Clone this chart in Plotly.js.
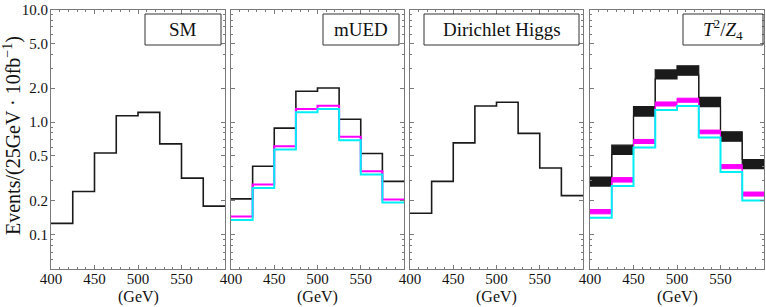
<!DOCTYPE html>
<html><head><meta charset="utf-8">
<script src="https://cdn.plot.ly/plotly-3.0.1.min.js"></script>
<style>html,body{margin:0;padding:0;background:#fff}#plot{width:766px;height:307px}</style>
</head><body><div id="plot"></div>
<script>
// ---- data ----
const binEdges = [400,425,450,475,500,525,550,575,600];
const panelNames = ["SM","mUED","Dirichlet Higgs","<i>T</i><sup>2</sup>/<i>Z</i><sub>4</sub>"];
const smVals = [0.126,0.242,0.532,1.14,1.22,0.640,0.318,0.179];
const muedBlack = [0.208,0.405,0.884,1.88,2.01,1.06,0.526,0.297];
const muedMagenta = [0.145,0.279,0.610,1.31,1.40,0.739,0.365,0.205];
const muedCyan = [0.135,0.259,0.570,1.22,1.31,0.691,0.343,0.193];
const dhVals = [0.155,0.297,0.653,1.39,1.50,0.793,0.391,0.222];
const t2BlackHi = [0.325,0.623,1.37,2.91,3.16,1.66,0.819,0.465];
const t2BlackLo = [0.270,0.515,1.13,2.42,2.61,1.37,0.676,0.386];
const t2MagHi = [0.167,0.321,0.701,1.51,1.63,0.849,0.419,0.239];
const t2MagLo = [0.153,0.293,0.645,1.39,1.50,0.787,0.386,0.220];
const t2Cyan = [0.141,0.270,0.594,1.28,1.39,0.730,0.360,0.201];
const xTickVals = [400,450,500,550,600];
const xTickText = ["400","450","500","550",""];
const yTickVals = [0.1,0.2,0.5,1,2,5,10];
const yTickText = ["0.1","0.2","0.5","1.0","2.0","5.0","10.0"];
const yMinorVals = [0.06,0.07,0.08,0.09,0.3,0.4,0.6,0.7,0.8,0.9,3,4,6,7,8,9];

// ---- helpers ----
const W = 766, H = 307;
const FONT = "Liberation Serif, Times New Roman, serif";
function stepY(v){ return v.concat([v[v.length-1]]); }
function step(v, ax, color, width, extra){
  return Object.assign({x: binEdges, y: stepY(v), xaxis: 'x'+ax, yaxis: 'y'+ax,
    mode:'lines', line:{shape:'hv', color: color, width: width}, hoverinfo:'skip', showlegend:false}, extra||{});
}
const BLACK = '#1a1a1a', MAG = '#ff00ff', CYAN = '#00eef5';
const traces = [
  step(smVals, '', BLACK, 1.6),
  step(muedBlack, '2', BLACK, 1.6),
  step(muedMagenta, '2', MAG, 2),
  step(muedCyan, '2', CYAN, 2),
  step(dhVals, '3', BLACK, 1.6),
  step(t2BlackLo, '4', BLACK, 1.2),
  step(t2BlackHi, '4', BLACK, 1.2, {fill:'tonexty', fillcolor: BLACK}),
  step(t2MagLo, '4', MAG, 1),
  step(t2MagHi, '4', MAG, 1, {fill:'tonexty', fillcolor: MAG}),
  step(t2Cyan, '4', CYAN, 2)
];

const pxDomains = [[51,225],[231,404],[410,583],[590,764]];
const yDom = [1-268.5/H, 1-9.5/H];
const FRAME = '#7a7a7a';
const layout = {
  width: W, height: H, margin:{l:0,r:0,t:0,b:0},
  paper_bgcolor:'#fff', plot_bgcolor:'#fff', showlegend:false,
  font:{family: FONT, color:'#111', size:14},
  shapes: [], annotations: []
};
const boxes = [[145,221],[323,399],[424,579],[683,763]];
for(let i=0;i<4;i++){
  const s = i===0 ? '' : String(i+1);
  layout['xaxis'+s] = {domain:[pxDomains[i][0]/W, pxDomains[i][1]/W], range:[400,600],
    anchor:'y'+s, tickmode:'array', tickvals:xTickVals, ticktext:xTickText, ticks:'inside', ticklen:4,
    tickcolor:FRAME, showline:true, linecolor:FRAME, linewidth:1, mirror:'ticks', showgrid:false, zeroline:false,
    tickfont:{family:FONT, size:15, color:'#111'}, ticklabelstandoff:-4,
    minor:{tickmode:'linear', tick0:400, dtick:10, ticks:'inside', ticklen:2, tickcolor:FRAME, showgrid:false}};
  layout['yaxis'+s] = {domain:yDom, type:'log', range:[Math.log10(0.05), 1.0004], anchor:'x'+s,
    tickmode:'array', tickvals:yTickVals, ticktext:yTickText, ticks:'inside', ticklen:4, tickcolor:FRAME,
    showline:true, linecolor:FRAME, linewidth:1, mirror:'ticks', showgrid:false, zeroline:false,
    showticklabels: i===0, tickfont:{family:FONT, size:15, color:'#111'}, ticklabelstandoff:-1,
    minor:{tickmode:'array', tickvals:yMinorVals, ticks:'inside', ticklen:2, tickcolor:FRAME, showgrid:false}};
  // label box
  layout.shapes.push({type:'rect', xref:'paper', yref:'paper', x0:boxes[i][0]/W, x1:boxes[i][1]/W,
    y0:1-45/H, y1:1-14/H, line:{color:'#333', width:1}, fillcolor:'rgba(255,255,255,0)'});
  layout.annotations.push({xref:'paper', yref:'paper', x:(boxes[i][0]+boxes[i][1])/2/W, y:1-29.5/H,
    xanchor:'center', yanchor:'middle', text: panelNames[i], showarrow:false,
    font:{family:FONT, size:19, color:'#111'}});
  layout.annotations.push({xref:'paper', yref:'paper', x:(pxDomains[i][0]+pxDomains[i][1])/2/W, y:1-297/H,
    xanchor:'center', yanchor:'middle', text:'(GeV)', showarrow:false, font:{family:FONT, size:16, color:'#111'}});
}
layout.annotations.push({xref:'paper', yref:'paper', x:12/W, y:1-136/H, xanchor:'center', yanchor:'middle',
  textangle:-90, text:'Events/(25GeV · 10fb<sup>−1</sup>)', showarrow:false, font:{family:FONT, size:20, color:'#111'}});

Plotly.newPlot('plot', traces, layout, {staticPlot:true, displayModeBar:false});
</script></body></html>
